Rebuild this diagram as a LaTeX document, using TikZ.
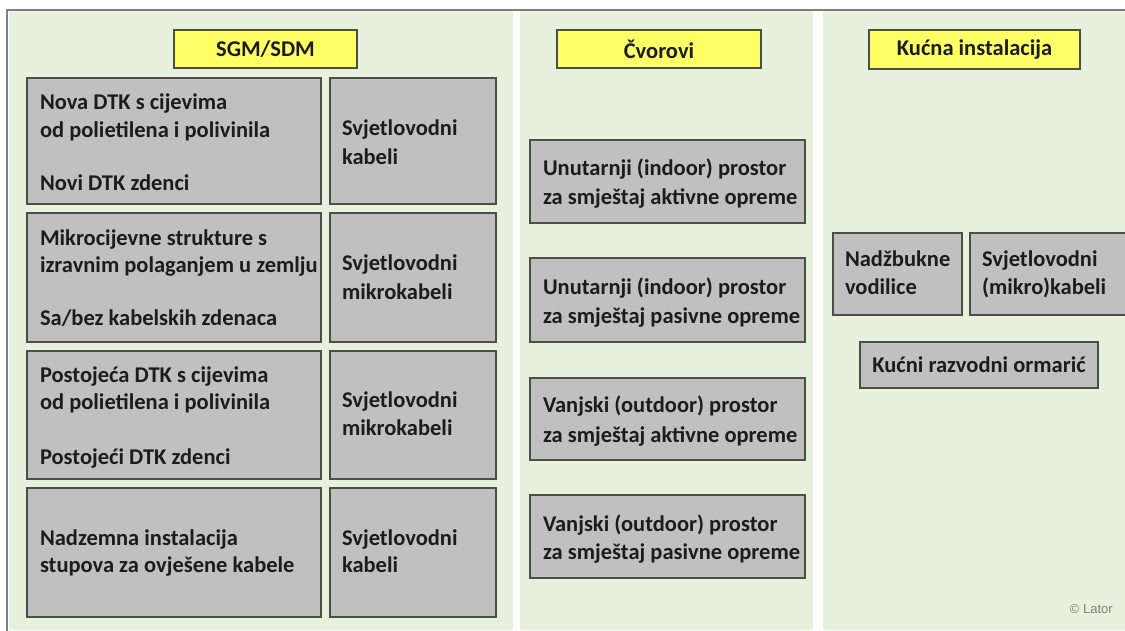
\documentclass[tikz,border=0pt]{standalone}
\usepackage{fontspec}
\setmainfont{Carlito}
\newfontfamily\latorfont{Liberation Sans}
\definecolor{panelgreen}{HTML}{E8F0DE}
\definecolor{boxgray}{HTML}{C0C0C0}
\definecolor{boxline}{HTML}{4A4F48}
\definecolor{hdryellow}{HTML}{FFFF66}
\definecolor{framegray}{HTML}{7F7F7F}
\definecolor{txtdark}{HTML}{1C1C1C}
\tikzset{
  gbox/.style={draw=boxline, fill=boxgray, line width=1.3pt, inner sep=0pt, outer sep=0pt, anchor=north west},
  hbox/.style={draw=boxline, fill=hdryellow, line width=1.3pt, inner sep=0pt, outer sep=0pt, anchor=north west},
  txt/.style={inner sep=0pt, outer sep=0pt, anchor=base west, text=txtdark, font=\fontsize{22.5}{27}\selectfont\bfseries},
  ctxt/.style={inner sep=0pt, outer sep=0pt, text=txtdark, font=\fontsize{22.5}{27}\selectfont\bfseries},
  panel/.style={fill=panelgreen, draw=none}
}
\begin{document}
\begin{tikzpicture}[x=1pt,y=-1pt]
\useasboundingbox (0,0) rectangle (1125,630);
\clip (0,0) rectangle (1125,630);
\fill[white] (0,0) rectangle (1125,630);
% panels
\fill[panel] (9,11) rectangle (513,630);
\fill[panel] (520,11) rectangle (813,630);
\fill[panel] (823,11) rectangle (1125,630);
% frame
\draw[framegray, line width=2.5pt] (7,632) -- (7,10) -- (1127,10);

% ---------- left panel ----------
\node[hbox, minimum width=183pt, minimum height=38pt] (h1) at (174,30) {};
\node[ctxt] (h1t) at (h1.center) {SGM/SDM};

\node[gbox, minimum width=294pt, minimum height=126pt] (l1) at (27,78) {};
\node[gbox, minimum width=166pt, minimum height=126pt] (r1) at (330,78) {};
\node[gbox, minimum width=294pt, minimum height=129pt] (l2) at (27,213) {};
\node[gbox, minimum width=166pt, minimum height=129pt] (r2) at (330,213) {};
\node[gbox, minimum width=294pt, minimum height=128pt] (l3) at (27,351) {};
\node[gbox, minimum width=166pt, minimum height=128pt] (r3) at (330,351) {};
\node[gbox, minimum width=294pt, minimum height=129pt] (l4) at (27,488) {};
\node[gbox, minimum width=166pt, minimum height=129pt] (r4) at (330,488) {};

\node[txt] (l1a) at (40,109) {Nova DTK s cijevima};
\node[txt] (l1b) at (40,137) {od polietilena i polivinila};
\node[txt] (l1c) at (40,190) {Novi DTK zdenci};
\node[txt] (r1a) at (342,135) {Svjetlovodni};
\node[txt] (r1b) at (342,164) {kabeli};

\node[txt] (l2a) at (40,245) {Mikrocijevne strukture s};
\node[txt] (l2b) at (40,272) {izravnim polaganjem u zemlju};
\node[txt] (l2c) at (40,325) {Sa/bez kabelskih zdenaca};
\node[txt] (r2a) at (342,270) {Svjetlovodni};
\node[txt] (r2b) at (342,299) {mikrokabeli};

\node[txt] (l3a) at (40,382) {Postojeća DTK s cijevima};
\node[txt] (l3b) at (40,409) {od polietilena i polivinila};
\node[txt] (l3c) at (40,464) {Postojeći DTK zdenci};
\node[txt] (r3a) at (342,407) {Svjetlovodni};
\node[txt] (r3b) at (342,435) {mikrokabeli};

\node[txt] (l4a) at (40,545) {Nadzemna instalacija};
\node[txt] (l4b) at (40,572) {stupova za ovješene kabele};
\node[txt] (r4a) at (342,545) {Svjetlovodni};
\node[txt] (r4b) at (342,572) {kabeli};

% ---------- middle panel ----------
\node[hbox, minimum width=204pt, minimum height=38pt] (h2) at (557,30) {};
\node[ctxt] (h2t) at (h2.center) {Čvorovi};

\node[gbox, minimum width=275pt, minimum height=83pt] (m1) at (530,140) {};
\node[gbox, minimum width=275pt, minimum height=84pt] (m2) at (530,258) {};
\node[gbox, minimum width=275pt, minimum height=82pt] (m3) at (530,378) {};
\node[gbox, minimum width=275pt, minimum height=83pt] (m4) at (530,495) {};

\node[txt] (m1a) at (543,175) {Unutarnji (indoor) prostor};
\node[txt] (m1b) at (543,204) {za smještaj aktivne opreme};
\node[txt] (m2a) at (543,294) {Unutarnji (indoor) prostor};
\node[txt] (m2b) at (543,323) {za smještaj pasivne opreme};
\node[txt] (m3a) at (543,412) {Vanjski (outdoor) prostor};
\node[txt] (m3b) at (543,442) {za smještaj aktivne opreme};
\node[txt] (m4a) at (543,531) {Vanjski (outdoor) prostor};
\node[txt] (m4b) at (543,559) {za smještaj pasivne opreme};

% ---------- right panel ----------
\node[hbox, minimum width=211pt, minimum height=39pt] (h3) at (869,30) {};
\node[ctxt] (h3t) at (h3.center) {Kućna instalacija};

\node[gbox, minimum width=129pt, minimum height=82pt] (n1) at (833,233) {};
\node[gbox, minimum width=165pt, minimum height=82pt] (n2) at (970,233) {};
\node[gbox, minimum width=238pt, minimum height=46pt] (n3) at (860,342) {};

\node[txt] (n1a) at (845,266) {Nadžbukne};
\node[txt] (n1b) at (845,294) {vodilice};
\node[txt] (n2a) at (982,266) {Svjetlovodni};
\node[txt] (n2b) at (982,294) {(mikro)kabeli};
\node[ctxt] (n3t) at (n3.center) {Kućni razvodni ormarić};

\node[inner sep=0pt, anchor=east, text=framegray, font=\latorfont\fontsize{13}{15}\selectfont] (lator) at (1113,609) {© Lator};
\end{tikzpicture}
\end{document}
